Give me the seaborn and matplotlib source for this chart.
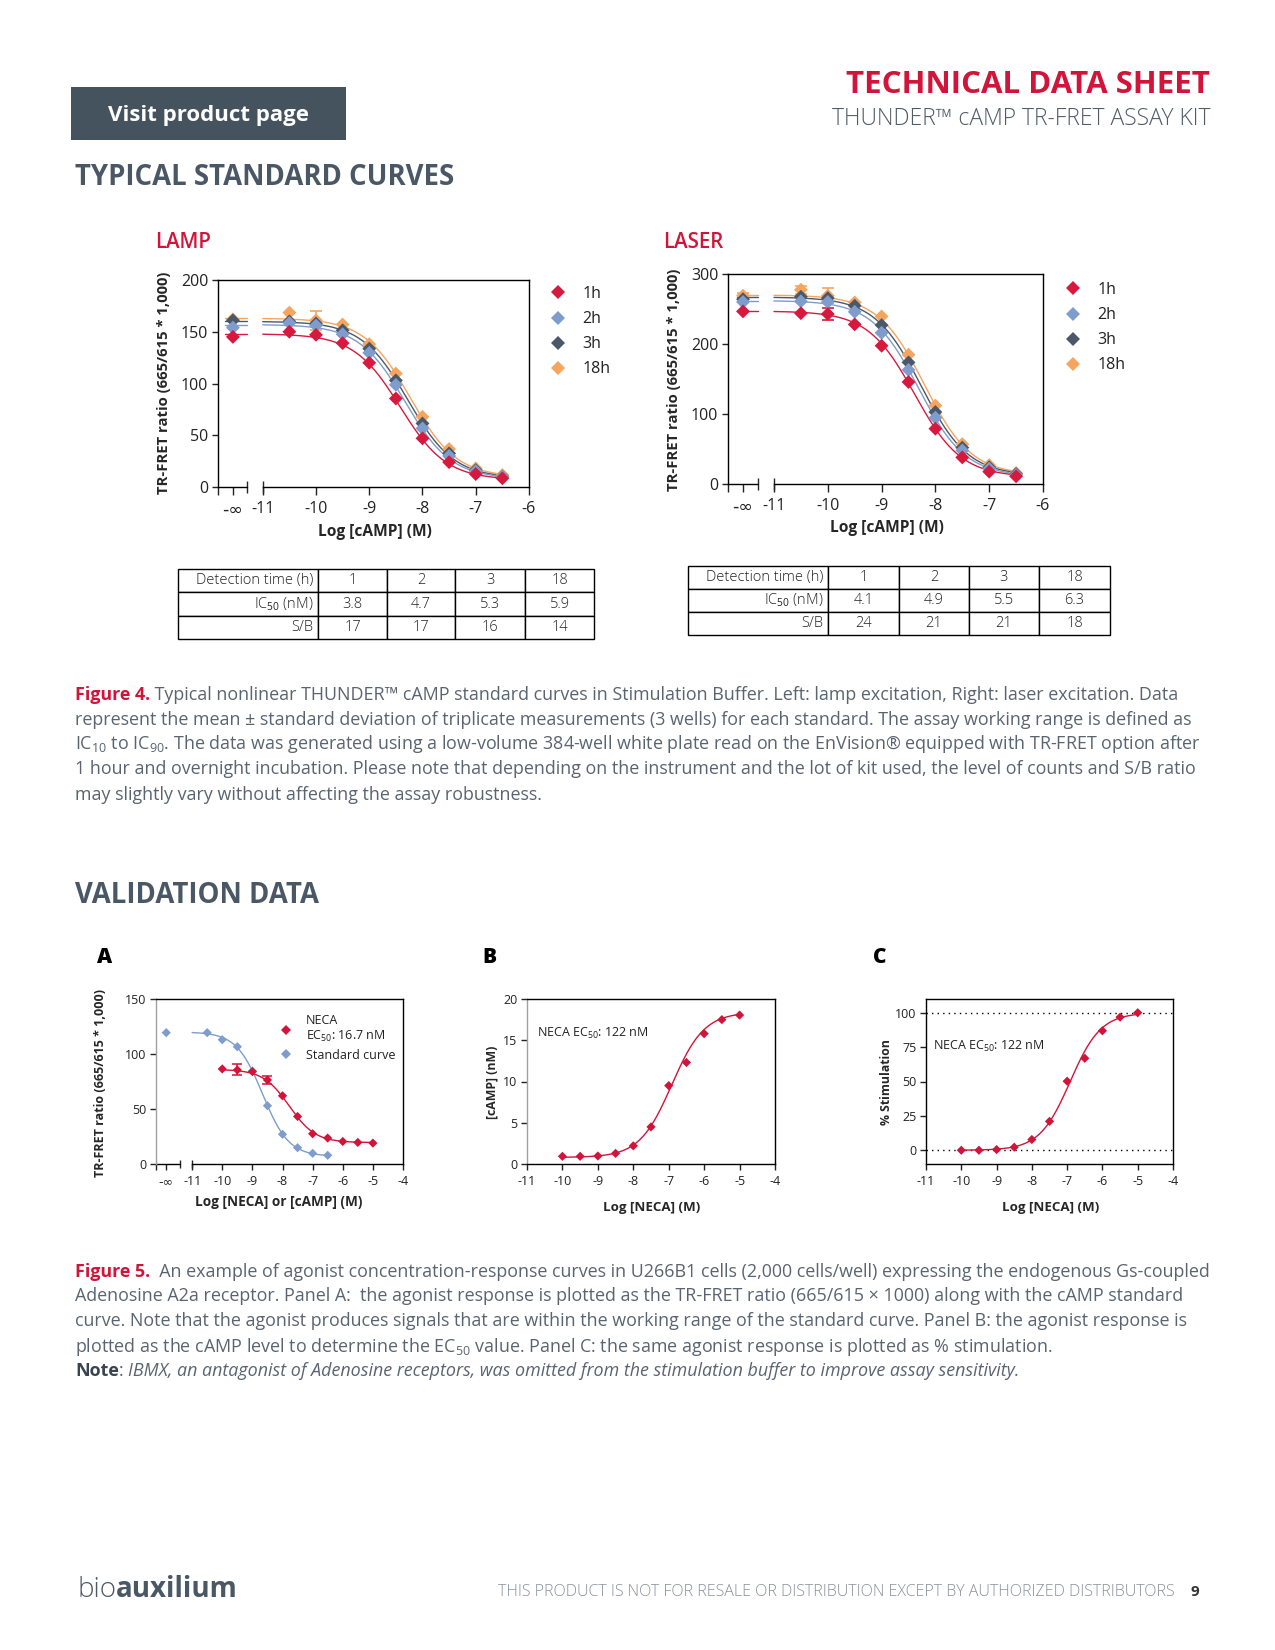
import numpy as np
import pandas as pd
import matplotlib
matplotlib.use("Agg")
import matplotlib.pyplot as plt
import seaborn as sns
from matplotlib.lines import Line2D
from matplotlib.patches import Rectangle

sns.set_style("ticks")
plt.rcParams['font.family'] = ['Open Sans', 'DejaVu Sans']
plt.rcParams['mathtext.fontset'] = 'custom'
plt.rcParams['mathtext.rm'] = 'Open Sans'
plt.rcParams['mathtext.it'] = 'Open Sans:italic'
plt.rcParams['mathtext.bf'] = 'Open Sans:bold'
plt.rcParams['axes.unicode_minus'] = False

# ---------------- data ----------------
times = ["1h", "2h", "3h", "18h"]
std_log = [-10.5, -10, -9.5, -9, -8.5, -8, -7.5, -7, -6.5]   # log [cAMP] (M)

# LAMP excitation (blank = -inf, no cAMP)
lamp_blank = [145, 154, 161, 162]
lamp_1h = [150, 147, 139, 120, 85.5, 47, 24, 12.5, 8.4]
lamp_2h = [158.5, 156, 147.6, 129.6, 98.7, 56.6, 30, 15.4, 10]
lamp_3h = [160, 158, 151.4, 133.7, 103, 61.4, 32.5, 16.4, 10]
lamp_18h = [168.5, 161, 157, 138, 109.6, 67.8, 36.7, 18, 11.6]
lamp_err_18h = [0, 0, 9, 0, 0, 0, 0, 0, 0, 0]
lamp_top = [148, 157, 160, 163]
lamp_bottom = [7, 8, 8.5, 9.5]
lamp_ic50 = [3.8, 4.7, 5.3, 5.9]     # nM
lamp_sb = [17, 17, 16, 14]

# LASER excitation
laser_blank = [246.6, 260, 264, 269]
laser_1h = [244, 242.8, 228, 197.5, 145.7, 79, 38, 17.6, 11]
laser_2h = [261, 260, 246, 216, 163, 94.7, 48, 22, 13]
laser_3h = [267.5, 265.6, 254.7, 227, 173.7, 102.8, 52, 24, 14.3]
laser_18h = [277.5, 269, 259.4, 239.4, 184.7, 112, 57, 27, 15.7]
laser_err_1h = [0, 0, 8, 0, 0, 0, 0, 0, 0, 0]
laser_err_18h = [4, 6, 11, 0, 0, 0, 0, 0, 0, 0]
laser_top = [247, 262, 267, 270]
laser_bottom = [10, 11, 12, 13]
laser_ic50 = [4.1, 4.9, 5.5, 6.3]    # nM
laser_sb = [24, 21, 21, 18]

hill_std = 1.0

# Validation: NECA in U266B1 cells
neca_log = [-10, -9.5, -9, -8.5, -8, -7.5, -7, -6.5, -6, -5.5, -5]
neca_ratio = [86.4, 85.5, 84, 76.4, 62, 43.2, 27.5, 23.6, 20.5, 19.6, 19]
neca_ratio_err = [0, 5, 0, 4, 0, 0, 0, 0, 0, 0, 0]
std_curve_blank = 119.4
std_curve_log = [-10.5, -10, -9.5, -9, -8.5, -8, -7.5, -7, -6.5]
std_curve_ratio = [119.4, 113, 106.6, 84.5, 53, 27, 14.8, 9.7, 7.9]
neca_camp = [0.93, 0.93, 0.97, 1.29, 2.2, 4.5, 9.5, 12.3, 15.8, 17.5, 18.05]
neca_stim = [0, 0, 0.5, 2.2, 7.8, 21, 50.2, 66.9, 86.9, 96.8, 100]

# fit parameters (top, bottom, log mid, hill)
neca_ratio_fit = (86, 19.5, np.log10(16.7e-9), 1.0)
std_curve_fit = (120, 7, -8.66, 1.0)
neca_camp_fit = (18.4, 0.8, np.log10(122e-9), 0.95)
neca_stim_fit = (100, 0, np.log10(122e-9), 1.0)

# ---------------- styling ----------------
W, H = 1275, 1650
RED = "#d2143a"
SLATE = "#4a5866"
GRAY_TXT = "#5a6470"
colors = {"1h": "#d7193f", "2h": "#7e9ccc", "3h": "#4b5869", "18h": "#f6a55f"}
BLUE = "#7e9ccc"

fig = plt.figure(figsize=(W / 100, H / 100), dpi=100)
renderer = fig.canvas.get_renderer()


def fy(y):
    return 1 - y / H


def add_axes_px(x0, y0, x1, y1):
    return fig.add_axes([x0 / W, 1 - y1 / H, (x1 - x0) / W, (y1 - y0) / H])


def txt(x, y, s, **kw):
    return fig.text(x / W, fy(y), s, **kw)


def rich_line(x, y, parts, size, va="baseline"):
    cur = x
    for s, props in parts:
        t = fig.text(cur / W, fy(y), s, fontsize=size, va=va, ha="left", **props)
        cur += t.get_window_extent(renderer).width


def falling(x, top, bottom, mid, hill):
    return bottom + (top - bottom) / (1 + 10 ** ((np.asarray(x) - mid) * hill))


def rising(x, top, bottom, mid, hill):
    return bottom + (top - bottom) / (1 + 10 ** ((mid - np.asarray(x)) * hill))


def frame(ax, size, xlen, xpad, left_color="black"):
    for s in ax.spines.values():
        s.set_color("black")
        s.set_linewidth(1.0)
    ax.spines["left"].set_color(left_color)
    ax.tick_params(axis="both", which="major", direction="out", width=1.0,
                   labelsize=size, colors="#222222")
    ax.tick_params(axis="y", which="major", length=4.5, pad=2.5)
    ax.tick_params(axis="x", which="major", length=xlen, pad=xpad)
    ax.set_xlabel("")
    ax.set_ylabel("")


def broken_x(ax, xlim, neg_inf, brk, major, size, inf_size):
    ax.set_xlim(*xlim)
    ax.spines["bottom"].set_bounds(brk[1], xlim[1])
    ax.plot([xlim[0], brk[0]], [0, 0], transform=ax.get_xaxis_transform(),
            color="black", lw=1.0, clip_on=False)
    ax.set_xticks([xlim[0], neg_inf] + major)
    labels = ax.set_xticklabels(["", "-∞"] + [str(m) for m in major], fontsize=size)
    labels[1].set_fontfamily("DejaVu Sans")
    labels[1].set_fontsize(inf_size)
    ax.set_xticks(list(brk), minor=True)
    ax.xaxis.remove_overlapping_locs = False
    ax.tick_params(axis="x", which="minor", direction="inout", length=8, width=1.0)


def standard_chart(rect, xlim, neg_inf, flat, blank, series, errs, top, bottom, ic50,
                   ylim, yticks, legend_xy):
    ax = add_axes_px(*rect)
    pts, curves = [], []
    for t, b, vals, tp, bt, ic in zip(times, blank, series, top, bottom, ic50):
        pts.append(pd.DataFrame({"x": [neg_inf] + std_log, "y": [b] + vals, "time": t}))
        mid = np.log10(ic * 1e-9)
        xs = np.linspace(-11, std_log[-1], 200)
        curves.append(pd.DataFrame({"x": xs, "y": falling(xs, tp, bt, mid, hill_std),
                                    "time": t, "seg": t + "a"}))
        curves.append(pd.DataFrame({"x": list(flat), "y": [tp, tp], "time": t, "seg": t + "b"}))
    order = times[::-1]
    pts_df = pd.concat([p for t in order for p in pts if p["time"].iloc[0] == t])
    curve_df = pd.concat([c for t in order for c in curves if c["time"].iloc[0] == t])
    sns.lineplot(data=curve_df, x="x", y="y", hue="time", units="seg", estimator=None,
                 palette=colors, hue_order=order, lw=1.0, legend=False, ax=ax, sort=False)
    for t, e in errs.items():
        d = pts_df[pts_df["time"] == t]
        e = np.asarray(e)
        m = e > 0
        ax.errorbar(d["x"].values[m], d["y"].values[m], yerr=e[m], fmt="none",
                    ecolor=colors[t], capsize=4, elinewidth=1.2, capthick=1.2, zorder=2)
    sns.scatterplot(data=pts_df, x="x", y="y", hue="time", palette=colors, marker="D",
                    s=50, edgecolor="none", legend=False, ax=ax, zorder=3)
    ax.set_ylim(*ylim)
    ax.set_yticks(yticks)
    frame(ax, 11.5, 5.5, 4.5)
    broken_x(ax, xlim, neg_inf, (-11.3, -11.0), [-11, -10, -9, -8, -7, -6], 11.5, 12.5)
    handles = [Line2D([], [], marker="D", ls="none", color=colors[t], markersize=7,
                      markeredgewidth=0) for t in times]
    fig.legend(handles, times, loc="upper left", bbox_to_anchor=(legend_xy[0] / W, fy(legend_xy[1])),
               frameon=False, fontsize=11.5, handlelength=0.8, handletextpad=1.1,
               labelspacing=0.57, borderpad=0, borderaxespad=0, labelcolor="#222222")
    return ax


def draw_table(rect, col_px, cells):
    ax = add_axes_px(*rect)
    ax.axis("off")
    widths = list(np.array(col_px) / sum(col_px))
    tbl = ax.table(cellText=cells, colWidths=widths, cellLoc="center", bbox=[0, 0, 1, 1])
    tbl.auto_set_font_size(False)
    tbl.set_fontsize(10.5)
    for (r, c), cell in tbl.get_celld().items():
        cell.set_linewidth(1.0)
        cell.set_edgecolor("black")
        cell.get_text().set_fontweight("light")
        cell.get_text().set_color("#222222")
        if c == 0:
            cell.get_text().set_horizontalalignment("right")
            cell.PAD = 0.03


# ---------------- header ----------------
fig.add_artist(Rectangle((71 / W, fy(140)), 275 / W, 53 / H, transform=fig.transFigure,
                         color="#45535e", lw=0))
txt(208, 115, "Visit product page", fontsize=16, fontweight="bold", color="white",
    ha="center", va="center")
txt(1210, 93, "TECHNICAL DATA SHEET", fontsize=22.5, fontweight="bold", color=RED,
    ha="right", va="baseline")
txt(1210, 125, "THUNDER™ cAMP TR-FRET ASSAY KIT", fontsize=16.5, fontweight="light",
    color="#4f5b66", ha="right", va="baseline")
txt(75, 185, "TYPICAL STANDARD CURVES", fontsize=19.8, fontweight="bold", color=SLATE,
    va="baseline")

# ---------------- standard curves ----------------
txt(155, 248, "LAMP", fontsize=14.8, fontweight="semibold", color=RED, va="baseline")
txt(663, 248, "LASER", fontsize=14.8, fontweight="semibold", color=RED, va="baseline")

standard_chart((218, 280, 529, 487), (-11.84, -6), -11.56, (-11.71, -11.3), lamp_blank,
               [lamp_1h, lamp_2h, lamp_3h, lamp_18h], {"18h": lamp_err_18h},
               lamp_top, lamp_bottom, lamp_ic50, (0, 200), [0, 50, 100, 150, 200], (552, 286))
standard_chart((728, 274, 1043, 484), (-11.855, -6), -11.576, (-11.68, -11.3), laser_blank,
               [laser_1h, laser_2h, laser_3h, laser_18h],
               {"1h": laser_err_1h, "18h": laser_err_18h},
               laser_top, laser_bottom, laser_ic50, (0, 300), [0, 100, 200, 300], (1067, 282))

ylab = "TR-FRET ratio (665/615 * 1,000)"
txt(164, 383, ylab, fontsize=10.7, fontweight="bold", rotation=90, ha="center", va="center")
txt(674, 380, ylab, fontsize=10.7, fontweight="bold", rotation=90, ha="center", va="center")
txt(375, 532, "Log [cAMP] (M)", fontsize=11.2, fontweight="bold", ha="center", va="center")
txt(887, 528, "Log [cAMP] (M)", fontsize=11.2, fontweight="bold", ha="center", va="center")

head = ["Detection time (h)", "1", "2", "3", "18"]
draw_table((178, 569, 594, 639), [140, 69, 68, 70, 69],
           [head, ["IC$_{50}$ (nM)"] + [str(v) for v in lamp_ic50],
            ["S/B"] + [str(v) for v in lamp_sb]])
draw_table((688, 566, 1110, 635), [140, 71, 70, 70, 71],
           [head, ["IC$_{50}$ (nM)"] + [str(v) for v in laser_ic50],
            ["S/B"] + [str(v) for v in laser_sb]])

# ---------------- figure 4 caption ----------------
CAP = 12.85
red_b = dict(color=RED, fontweight="bold")
gray = dict(color=GRAY_TXT)
cap4 = [
    [("Figure 4.", red_b), (" Typical nonlinear THUNDER™ cAMP standard curves in Stimulation Buffer. "
                             "Left: lamp excitation, Right: laser excitation. Data", gray)],
    [("represent the mean ± standard deviation of triplicate measurements (3 wells) for each standard. "
      "The assay working range is defined as", gray)],
    [("IC$_{10}$ to IC$_{90}$. The data was generated using a low-volume 384-well white plate read on "
      "the EnVision® equipped with TR-FRET option after", gray)],
    [("1 hour and overnight incubation. Please note that depending on the instrument and the lot of kit "
      "used, the level of counts and S/B ratio", gray)],
    [("may slightly vary without affecting the assay robustness.", gray)],
]
for parts, yb in zip(cap4, [700, 725, 749, 774, 800]):
    rich_line(75, yb, parts, CAP)

# ---------------- validation data ----------------
txt(75, 903, "VALIDATION DATA", fontsize=19.8, fontweight="bold", color=SLATE, va="baseline")
for lab, xp in zip(["A", "B", "C"], [97, 482, 873]):
    txt(xp, 963, lab, fontsize=15, fontweight="heavy", color="black", va="baseline")

PS = 9
# Panel A
axA = add_axes_px(156, 999, 403, 1164)
xs_std = np.linspace(-11, std_curve_log[-1], 200)
xs_neca = np.linspace(neca_log[0], neca_log[-1], 200)
curveA = pd.concat([
    pd.DataFrame({"x": xs_std, "y": falling(xs_std, *std_curve_fit), "s": "Standard curve"}),
    pd.DataFrame({"x": xs_neca, "y": falling(xs_neca, *neca_ratio_fit), "s": "NECA"}),
])
ptsA = pd.concat([
    pd.DataFrame({"x": [-11.86] + std_curve_log, "y": [std_curve_blank] + std_curve_ratio,
                  "s": "Standard curve"}),
    pd.DataFrame({"x": neca_log, "y": neca_ratio, "s": "NECA"}),
])
palA = {"NECA": RED, "Standard curve": BLUE}
sns.lineplot(data=curveA, x="x", y="y", hue="s", palette=palA, lw=1.0, legend=False,
             ax=axA, estimator=None, sort=False)
e = np.asarray(neca_ratio_err)
axA.errorbar(np.asarray(neca_log)[e > 0], np.asarray(neca_ratio)[e > 0], yerr=e[e > 0],
             fmt="none", ecolor=RED, capsize=3.5, elinewidth=1.1, capthick=1.1, zorder=2)
sns.scatterplot(data=ptsA, x="x", y="y", hue="s", palette=palA, marker="D", s=22,
                edgecolor="none", legend=False, ax=axA, zorder=3)
axA.set_ylim(0, 150)
axA.set_yticks([0, 50, 100, 150])
frame(axA, PS, 4.5, 3.5, left_color="#a0a0a0")
broken_x(axA, (-12.2, -4), -11.86, (-11.4, -11.0), [-11, -10, -9, -8, -7, -6, -5, -4], PS, 9)
axA.tick_params(axis="x", which="minor", length=6)
hA = [Line2D([], [], marker="D", ls="none", color=RED, markersize=4.8, markeredgewidth=0),
      Line2D([], [], marker="D", ls="none", color=BLUE, markersize=4.8, markeredgewidth=0)]
fig.legend(hA, ["NECA\nEC$_{50}$: 16.7 nM", "Standard curve"], loc="upper left",
           bbox_to_anchor=(282 / W, fy(1014)), frameon=False, fontsize=9, handlelength=0.7,
           handletextpad=1.2, labelspacing=0.35, borderpad=0, borderaxespad=0,
           labelcolor="#222222")
txt(100, 1083, ylab, fontsize=9, fontweight="bold", rotation=90, ha="center", va="center")
txt(279, 1202, "Log [NECA] or [cAMP] (M)", fontsize=9.8, fontweight="bold", ha="center", va="center")

# Panel B
axB = add_axes_px(527, 999, 775, 1164)
curveB = pd.DataFrame({"x": xs_neca, "y": rising(xs_neca, *neca_camp_fit)})
sns.lineplot(data=curveB, x="x", y="y", color=RED, lw=1.0, ax=axB, estimator=None, sort=False)
sns.scatterplot(x=neca_log, y=neca_camp, color=RED, marker="D", s=22, edgecolor="none",
                ax=axB, zorder=3)
axB.set_xlim(-11, -4)
axB.set_xticks(range(-11, -3))
axB.set_ylim(0, 20)
axB.set_yticks([0, 5, 10, 15, 20])
frame(axB, PS, 4.5, 3.5, left_color="#a0a0a0")
axB.text(0.04, 0.794, "NECA EC$_{50}$: 122 nM", transform=axB.transAxes, fontsize=9,
         va="center", color="#222222")
txt(492, 1082, "[cAMP] (nM)", fontsize=8.8, fontweight="bold", rotation=90, ha="center", va="center")
txt(652, 1208, "Log [NECA] (M)", fontsize=9.6, fontweight="bold", ha="center", va="center")

# Panel C
axC = add_axes_px(926, 999, 1173, 1164)
curveC = pd.DataFrame({"x": xs_neca, "y": rising(xs_neca, *neca_stim_fit)})
axC.axhline(0, color="black", ls=(0, (1, 3)), lw=1.0, zorder=1)
axC.axhline(100, color="black", ls=(0, (1, 3)), lw=1.0, zorder=1)
sns.lineplot(data=curveC, x="x", y="y", color=RED, lw=1.0, ax=axC, estimator=None, sort=False)
sns.scatterplot(x=neca_log, y=neca_stim, color=RED, marker="D", s=22, edgecolor="none",
                ax=axC, zorder=3)
axC.set_xlim(-11, -4)
axC.set_xticks(range(-11, -3))
axC.set_ylim(-10, 110)
axC.set_yticks([0, 25, 50, 75, 100])
frame(axC, PS, 4.5, 3.5)
axC.text(0.028, 0.715, "NECA EC$_{50}$: 122 nM", transform=axC.transAxes, fontsize=9,
         va="center", color="#222222")
txt(886, 1082, "% Stimulation", fontsize=8.8, fontweight="bold", rotation=90, ha="center", va="center")
txt(1051, 1208, "Log [NECA] (M)", fontsize=9.6, fontweight="bold", ha="center", va="center")

# ---------------- figure 5 caption ----------------
cap5 = [
    [("Figure 5.", red_b), ("  An example of agonist concentration-response curves in U266B1 cells "
                             "(2,000 cells/well) expressing the endogenous Gs-coupled", gray)],
    [("Adenosine A2a receptor. Panel A:  the agonist response is plotted as the TR-FRET ratio "
      "(665/615 × 1000) along with the cAMP standard", gray)],
    [("curve. Note that the agonist produces signals that are within the working range of the "
      "standard curve. Panel B: the agonist response is", gray)],
    [("plotted as the cAMP level to determine the EC$_{50}$ value. Panel C: the same agonist "
      "response is plotted as % stimulation.", gray)],
    [("Note", dict(color="#3a4450", fontweight="bold")), (": ", gray),
     ("IBMX, an antagonist of Adenosine receptors, was omitted from the stimulation buffer to "
      "improve assay sensitivity.", dict(color=GRAY_TXT, fontstyle="italic"))],
]
for parts, yb in zip(cap5, [1277, 1301, 1326, 1352, 1376]):
    rich_line(75, yb, parts, CAP)

# ---------------- footer ----------------
rich_line(77, 1597, [("bio", dict(color=SLATE, fontweight="light")),
                     ("auxilium", dict(color=SLATE, fontweight="bold"))], 20)
txt(1175, 1596, "THIS PRODUCT IS NOT FOR RESALE OR DISTRIBUTION EXCEPT BY AUTHORIZED DISTRIBUTORS",
    fontsize=11.5, fontweight="light", color="#8a9099", ha="right", va="baseline")
txt(1195, 1596, "9", fontsize=11, fontweight="bold", color="#333333", ha="center", va="baseline")

fig.savefig("out.png", dpi=100)
